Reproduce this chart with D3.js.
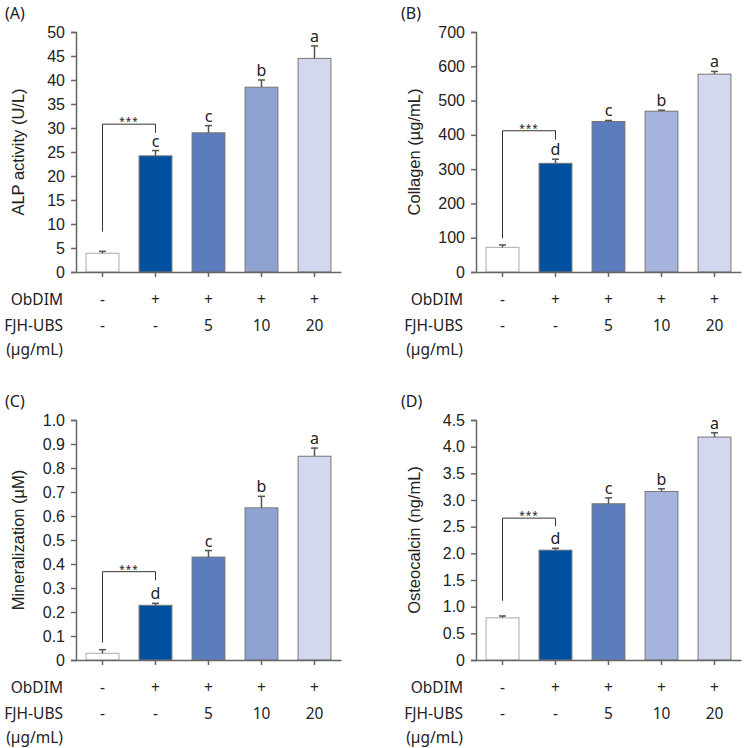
<!DOCTYPE html>
<html lang="en">
<head>
<meta charset="UTF-8">
<title>ObDIM / FJH-UBS panels</title>
<style>
  body { margin: 0; background: #fff; }
  svg { display: block; }
  .tick text { font-family: "Liberation Sans", Arial, sans-serif; font-size: 16px; fill: #222; }
  .ylab { font-family: "Liberation Sans", Arial, sans-serif; font-size: 16.5px; fill: #222; }
  .row { font-family: "Noto Sans", sans-serif; font-size: 15.5px; fill: #222; }
  .panel-letter { font-family: "Noto Sans", sans-serif; font-size: 16px; fill: #222; }
  .sig { font-family: "Noto Sans", sans-serif; font-size: 16px; fill: #222; }
</style>
</head>
<body>
<svg id="chart" width="744" height="748"></svg>
<script src="https://cdnjs.cloudflare.com/ajax/libs/d3/7.8.5/d3.min.js"></script>
<script>
// groups and treatment rows
const groups = ["g1", "g2", "g3", "g4", "g5"];
const obdimRow = ["-", "+", "+", "+", "+"];
const fjhRow = ["-", "-", "5", "10", "20"];

// (A) ALP activity
const alpValues = [3.9, 24.2, 29.0, 38.5, 44.5];
const alpErrors = [0.4, 1.1, 1.5, 1.5, 2.6];
const alpLetters = ["", "c", "c", "b", "a"];
const alpTicks = [0, 5, 10, 15, 20, 25, 30, 35, 40, 45, 50];
const alpBracket = [8.4, 30.8, 29.0];

// (B) Collagen
const colValues = [72, 317, 439, 469, 577];
const colErrors = [7, 12, 3, 3, 8];
const colLetters = ["", "d", "c", "b", "a"];
const colTicks = [0, 100, 200, 300, 400, 500, 600, 700];
const colBracket = [98, 412, 386];

// (C) Mineralization
const minValues = [0.028, 0.228, 0.429, 0.634, 0.849];
const minErrors = [0.015, 0.008, 0.027, 0.048, 0.034];
const minLetters = ["", "d", "c", "b", "a"];
const minTicks = [0, 0.1, 0.2, 0.3, 0.4, 0.5, 0.6, 0.7, 0.8, 0.9, 1.0];
const minBracket = [0.073, 0.368, 0.332];

// (D) Osteocalcin
const ostValues = [0.79, 2.06, 2.93, 3.16, 4.18];
const ostErrors = [0.035, 0.035, 0.11, 0.05, 0.08];
const ostLetters = ["", "d", "c", "b", "a"];
const ostTicks = [0, 0.5, 1.0, 1.5, 2.0, 2.5, 3.0, 3.5, 4.0, 4.5];
const ostBracket = [1.11, 2.66, 2.51];

const coloursAC = ["#ffffff", "#0050a0", "#5b7dbd", "#8fa3d3", "#d3d8ee"];
const coloursBD = ["#ffffff", "#0050a0", "#5b7dbd", "#a6b3dc", "#d3d8ee"];

const svg = d3.select("#chart");

function drawPanel(opt) {
  const g = svg.append("g").attr("transform", `translate(${opt.dx},${opt.dy})`);
  const x0 = 76, x1 = 341, yTop = 32, yBot = 272;

  const x = d3.scaleBand().domain(groups).range([x0, x1])
    .paddingInner(0.38).paddingOuter(0.19);
  const y = d3.scaleLinear().domain([0, opt.ticks[opt.ticks.length - 1]]).range([yBot, yTop]);

  // bars
  g.selectAll("rect.bar").data(opt.values).join("rect")
    .attr("class", "bar")
    .attr("x", (d, i) => x(groups[i]))
    .attr("y", d => y(d))
    .attr("width", x.bandwidth())
    .attr("height", d => yBot - y(d))
    .attr("fill", (d, i) => opt.colours[i])
    .attr("stroke", (d, i) => i === 0 ? "#aaa" : "#777")
    .attr("stroke-width", 1);

  // error bars (upper only)
  const cx = i => x(groups[i]) + x.bandwidth() / 2;
  opt.values.forEach((v, i) => {
    const top = y(v + opt.errors[i]);
    g.append("line").attr("x1", cx(i)).attr("x2", cx(i))
      .attr("y1", y(v)).attr("y2", top)
      .attr("stroke", "#555").attr("stroke-width", 1.5);
    g.append("line").attr("x1", cx(i) - 3.5).attr("x2", cx(i) + 3.5)
      .attr("y1", top).attr("y2", top)
      .attr("stroke", "#555").attr("stroke-width", 1.5);
    if (opt.letters[i]) {
      g.append("text").attr("class", "sig")
        .attr("x", cx(i)).attr("y", top - 4)
        .attr("text-anchor", "middle").text(opt.letters[i]);
    }
  });

  // significance bracket between control and ObDIM
  const b = opt.bracket;
  g.append("path")
    .attr("d", `M${cx(0)},${y(b[0])}V${y(b[1])}H${cx(1)}V${y(b[2])}`)
    .attr("fill", "none").attr("stroke", "#333").attr("stroke-width", 1);
  g.append("text").attr("class", "sig")
    .attr("x", (cx(0) + cx(1)) / 2).attr("y", y(b[1]) + 1)
    .attr("text-anchor", "middle").style("font-size", "10px")
    .style("letter-spacing", "1px")
    .text("***");

  // y axis
  const yAxis = g.append("g").attr("transform", `translate(${x0},0)`)
    .call(d3.axisLeft(y).tickValues(opt.ticks).tickSize(5).tickPadding(6)
      .tickFormat(d => d === 0 ? "0" : opt.fmt(d)));
  yAxis.select(".domain").attr("stroke", "#666").attr("stroke-width", 1.5);
  yAxis.selectAll(".tick line").attr("stroke", "#666").attr("stroke-width", 1.5);

  // x axis
  const xAxis = g.append("g").attr("transform", `translate(0,${yBot})`)
    .call(d3.axisBottom(x).tickSize(5).tickSizeOuter(0).tickFormat(""));
  xAxis.select(".domain").attr("stroke", "#666").attr("stroke-width", 1.5);
  xAxis.selectAll(".tick line").attr("stroke", "#666").attr("stroke-width", 1.5);

  // y label
  g.append("text").attr("class", "ylab")
    .attr("transform", `translate(${x0 - opt.labOff},${(yTop + yBot) / 2}) rotate(-90)`)
    .attr("text-anchor", "middle").attr("dy", "0.35em")
    .text(opt.label);

  // panel letter
  g.append("text").attr("class", "panel-letter")
    .attr("x", opt.letterX).attr("y", 19).text(opt.letter);

  // treatment rows
  const rows = [["ObDIM", obdimRow, 305], ["FJH-UBS", fjhRow, 331], ["(\u00b5g/mL)", null, 355]];
  rows.forEach(([name, vals, yy]) => {
    g.append("text").attr("class", "row")
      .attr("x", x0 - 13).attr("y", yy).attr("text-anchor", "end").text(name);
    if (vals) {
      g.selectAll(null).data(vals).join("text").attr("class", "row")
        .attr("x", (d, i) => cx(i)).attr("y", yy)
        .attr("text-anchor", "middle").text(d => d);
    }
  });
}

drawPanel({ dx: 0, dy: 0, values: alpValues, errors: alpErrors, letters: alpLetters,
  ticks: alpTicks, bracket: alpBracket, colours: coloursAC, fmt: d3.format("d"),
  label: "ALP activity (U/L)", labOff: 58, letter: "(A)", letterX: 5 });
drawPanel({ dx: 400, dy: 0, values: colValues, errors: colErrors, letters: colLetters,
  ticks: colTicks, bracket: colBracket, colours: coloursBD, fmt: d3.format("d"),
  label: "Collagen (\u00b5g/mL)", labOff: 62, letter: "(B)", letterX: 1 });
drawPanel({ dx: 0, dy: 388, values: minValues, errors: minErrors, letters: minLetters,
  ticks: minTicks, bracket: minBracket, colours: coloursAC, fmt: d3.format(".1f"),
  label: "Mineralization (\u00b5M)", labOff: 58, letter: "(C)", letterX: 5 });
drawPanel({ dx: 400, dy: 388, values: ostValues, errors: ostErrors, letters: ostLetters,
  ticks: ostTicks, bracket: ostBracket, colours: coloursBD, fmt: d3.format(".1f"),
  label: "Osteocalcin (ng/mL)", labOff: 62, letter: "(D)", letterX: 1 });
</script>
</body>
</html>
